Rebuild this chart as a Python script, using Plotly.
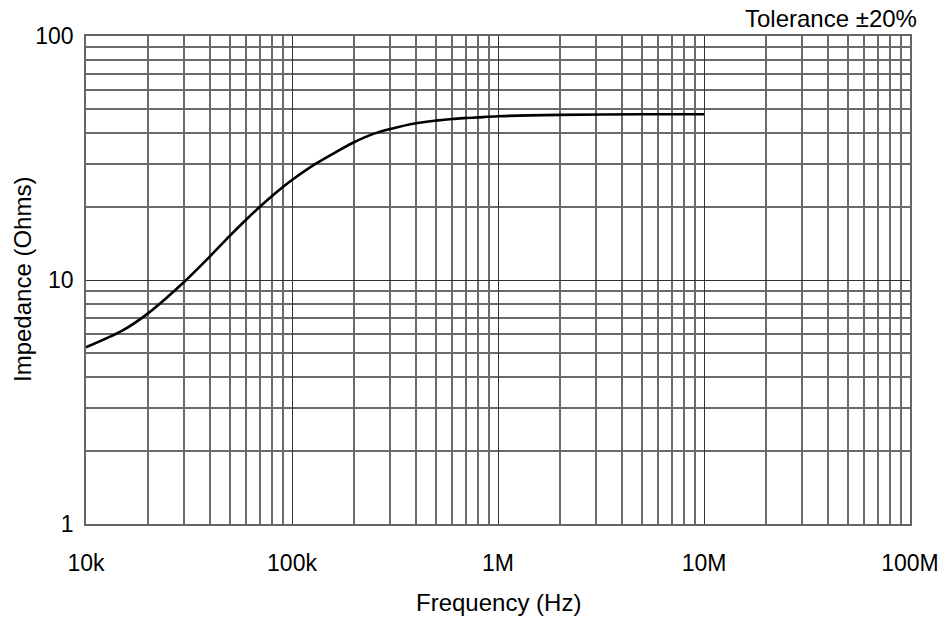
import plotly.graph_objects as go

freq_hz = [10e3, 15e3, 20e3, 30e3, 40e3, 50e3, 60e3, 70e3, 80e3, 90e3, 100e3,
           130e3, 165e3, 200e3, 250e3, 300e3, 400e3, 500e3, 600e3, 700e3, 800e3,
           1e6, 2e6, 5e6, 10e6]
impedance_ohm = [5.3, 6.2, 7.3, 9.84, 12.5, 15.2, 17.7, 20.0, 22.1, 24.0, 25.7,
                 29.9, 33.6, 36.7, 39.8, 41.6, 43.9, 45.0, 45.7, 46.1, 46.4,
                 46.9, 47.5, 47.8, 47.8]

x_tick_vals = [1e4, 1e5, 1e6, 1e7, 1e8]
x_tick_text = ["10k", "100k", "1M", "10M", "100M"]
y_tick_vals = [1, 10, 100]
y_tick_text = ["1", "10", "100"]

x_minor = [m * 10 ** e for e in range(4, 8) for m in range(2, 10)]
y_minor = [m * 10 ** e for e in range(0, 2) for m in range(2, 10)]

FONT = "Liberation Sans, Arial, sans-serif"

fig = go.Figure()
fig.add_trace(go.Scatter(
    x=freq_hz, y=impedance_ohm, mode="lines",
    line=dict(color="black", width=2.6, shape="spline", smoothing=0.8),
    hoverinfo="skip", showlegend=False,
))

axis_common = dict(
    type="log", automargin=False,
    showgrid=True, gridcolor="#333333", gridwidth=1.2,
    showline=True, linecolor="#666666", linewidth=1.5, mirror=True,
    ticks="", zeroline=False,
    tickfont=dict(family=FONT, size=23, color="black"),
)

fig.update_xaxes(
    **axis_common,
    range=[4, 8],
    tickmode="array", tickvals=x_tick_vals, ticktext=x_tick_text,
    ticklabelstandoff=18,
    minor=dict(tickmode="array", tickvals=x_minor, showgrid=True,
               gridcolor="#6a6a6a", gridwidth=1.5, ticks=""),
)
fig.update_yaxes(
    **axis_common,
    range=[0, 2],
    tickmode="array", tickvals=y_tick_vals, ticktext=y_tick_text,
    ticklabelstandoff=6,
    minor=dict(tickmode="array", tickvals=y_minor, showgrid=True,
               gridcolor="#6a6a6a", gridwidth=1.5, ticks=""),
)

fig.add_annotation(
    text="Frequency (Hz)", xref="paper", yref="paper", x=0.5, y=0,
    xanchor="center", yanchor="middle", yshift=-78, showarrow=False,
    font=dict(family=FONT, size=24, color="black"),
)
fig.add_annotation(
    text="Impedance (Ohms)", xref="paper", yref="paper", x=0, y=0.5,
    xanchor="center", yanchor="middle", xshift=-64, textangle=-90, showarrow=False,
    font=dict(family=FONT, size=24, color="black"),
)
fig.add_annotation(
    text="Tolerance ±20%", xref="paper", yref="paper", x=1.0, y=1.0,
    xanchor="right", yanchor="middle", xshift=9, yshift=18, showarrow=False,
    font=dict(family=FONT, size=24, color="black"),
)

fig.update_layout(
    width=940, height=620,
    margin=dict(l=86, r=30, t=36, b=96),
    paper_bgcolor="white", plot_bgcolor="white",
    font=dict(family=FONT, size=22, color="black"),
)

fig.write_html("out.html")
